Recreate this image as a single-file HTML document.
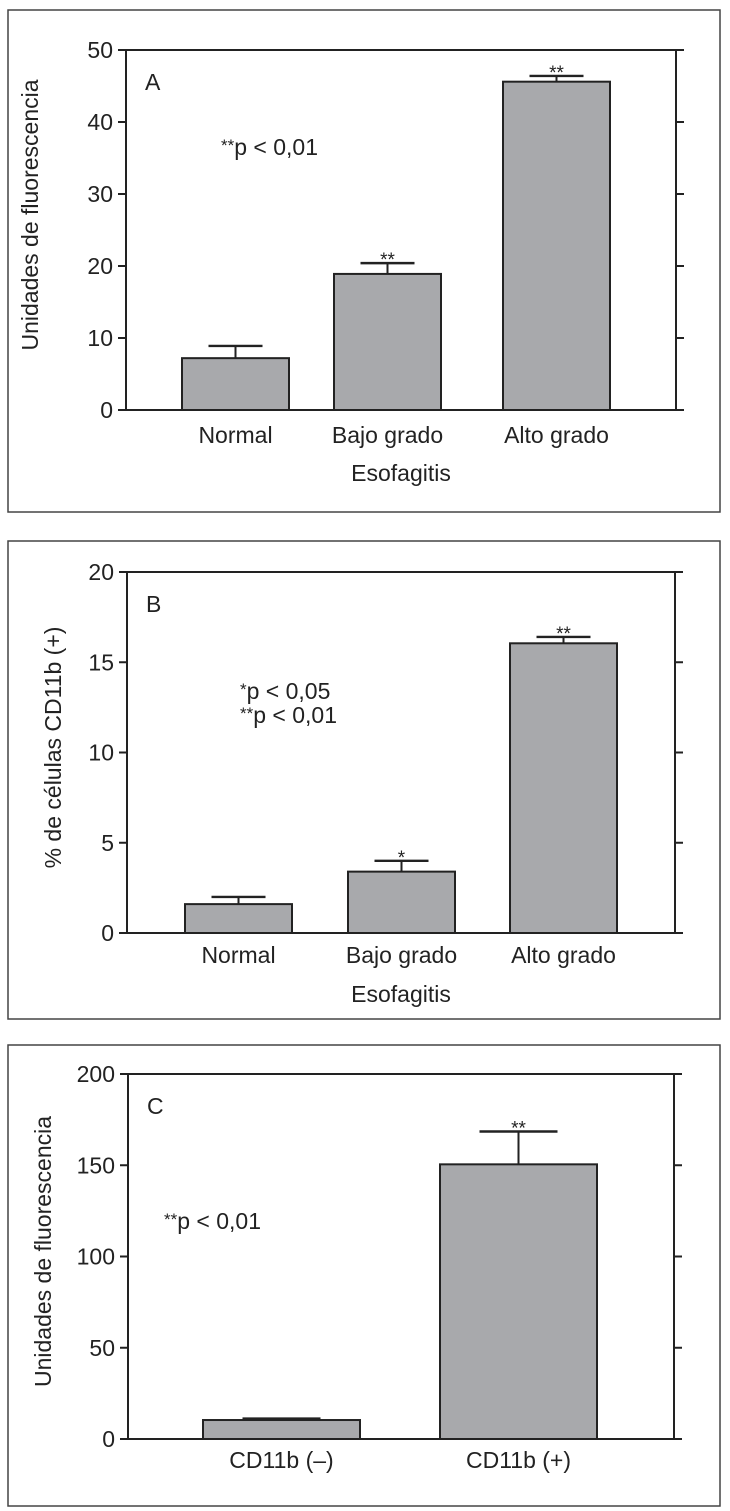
<!DOCTYPE html>
<html><head><meta charset="utf-8">
<style>
html,body{margin:0;padding:0;background:#fff;}
svg{display:block;font-family:"Liberation Sans",Arial,sans-serif;}
</style></head>
<body>
<svg id="fig" width="730" height="1511" viewBox="0 0 730 1511"></svg>
<script>
// Panel A data
const catsA = ["Normal","Bajo grado","Alto grado"];
const valsA = [7.2, 18.9, 45.6];
const errA = [8.9, 20.4, 46.4];
const starsA = ["", "**", "**"];
const ticksA = [0,10,20,30,40,50];
// Panel B data
const catsB = ["Normal","Bajo grado","Alto grado"];
const valsB = [1.6, 3.4, 16.05];
const errB = [2.0, 4.0, 16.4];
const starsB = ["", "*", "**"];
const ticksB = [0,5,10,15,20];
// Panel C data
const catsC = ["CD11b (\u2013)","CD11b (+)"];
const valsC = [10.4, 150.5];
const errC = [11.2, 168.5];
const starsC = ["", "**"];
const ticksC = [0,50,100,150,200];

const NS="http://www.w3.org/2000/svg";
const svg=document.getElementById('fig');
const FS=23;
function mk(tag,attrs,parent,text){
  const e=document.createElementNS(NS,tag);
  for(const k in attrs)e.setAttribute(k,attrs[k]);
  if(text!==undefined)e.textContent=text;
  (parent||svg).appendChild(e);return e;
}
function panel(cfg){
  const g=mk('g',{});
  
  
  const box=mk('rect',{x:cfg.box[0],y:cfg.box[1],width:cfg.box[2]-cfg.box[0],height:cfg.box[3]-cfg.box[1],fill:'none',stroke:'#444','stroke-width':1.5},g);
  
  
  const y=v=>cfg.y0-(v/cfg.max)*(cfg.y0-cfg.yTop);
  cfg.cats.forEach((c,i)=>{
    const x0=cfg.barX[i], w=cfg.barW;
    const cx=x0+w/2;
    const eline=mk('line',{x1:cx,x2:cx,y1:y(cfg.vals[i]),y2:y(cfg.err[i]),stroke:'#222','stroke-width':2},g);
    
    
    const cap=mk('line',{x1:cx-cfg.capW/2,x2:cx+cfg.capW/2,y1:y(cfg.err[i]),y2:y(cfg.err[i]),stroke:'#222','stroke-width':2.4},g);
    
    
    const b=mk('rect',{x:x0,y:y(cfg.vals[i]),width:w,height:cfg.y0-y(cfg.vals[i]),fill:'#a8a9ac',stroke:'#222','stroke-width':2},g);
    
    
    if(cfg.stars[i]){
      const s=mk('text',{x:cx,y:y(cfg.err[i])+3,'text-anchor':'middle','font-size':19,fill:'#222'},g,cfg.stars[i]);
      
      
    }
    const t=mk('text',{x:cx,y:cfg.catY,'text-anchor':'middle','font-size':FS,fill:'#222'},g,c);
    
    
  });
  const ax=mk('path',{d:`M${cfg.xL} ${cfg.yTop}V${cfg.y0} M${cfg.xR} ${cfg.yTop}V${cfg.y0} M${cfg.xL} ${cfg.yTop}H${cfg.xR+8} M${cfg.xL-8} ${cfg.y0}H${cfg.xR+8}`,stroke:'#222','stroke-width':2,fill:'none'},g);
  
  
  cfg.ticks.forEach(v=>{
    const tl=mk('path',{d:`M${cfg.xL-8} ${y(v)}H${cfg.xL} M${cfg.xR} ${y(v)}H${cfg.xR+8}`,stroke:'#222','stroke-width':2},g);
    
    
    const tt=mk('text',{x:cfg.xL-13,y:y(v)+8,'text-anchor':'end','font-size':FS,fill:'#222'},g,String(v));
    
    
  });
  const cy=(cfg.y0+cfg.yTop)/2+cfg.ytShift;
  const yt=mk('text',{x:cfg.ytX,y:cy,'text-anchor':'middle','font-size':FS,fill:'#222',transform:`rotate(-90 ${cfg.ytX} ${cy})`},g,cfg.ytitle);
  
  
  if(cfg.xtitle){
    const xt=mk('text',{x:(cfg.xL+cfg.xR)/2,y:cfg.xtY,'text-anchor':'middle','font-size':FS,fill:'#222'},g,cfg.xtitle);
    
    
  }
  const pl=mk('text',{x:cfg.xL+19,y:cfg.yTop+40,'font-size':FS,fill:'#222'},g,cfg.letter);
  
  
  cfg.notes.forEach(n=>{
    const nt=mk('text',{x:n[0],y:n[1],'font-size':FS,fill:'#222'},g);
    
    
    mk('tspan',{'font-size':17,dy:-4},nt,n[2]);
    mk('tspan',{dy:4},nt,n[3]);
  });
}
panel({name:'panel-a',box:[8,10,720,512],xL:126,xR:676,yTop:50,y0:410,max:50,
  cats:catsA,vals:valsA,err:errA,stars:starsA,ticks:ticksA,barX:[182,334,503],barW:107,capW:54,
  catY:443,xtitle:'Esofagitis',xtY:481,ytitle:'Unidades de fluorescencia',ytX:38,ytShift:-15,letter:'A',
  notes:[[221,155,'**','p < 0,01']]});
panel({name:'panel-b',box:[8,541,720,1019],xL:127,xR:675,yTop:572,y0:933,max:20,
  cats:catsB,vals:valsB,err:errB,stars:starsB,ticks:ticksB,barX:[185,348,510],barW:107,capW:54,
  catY:963,xtitle:'Esofagitis',xtY:1002,ytitle:'% de células CD11b (+)',ytX:61,ytShift:-5,letter:'B',
  notes:[[240,699,'*','p < 0,05'],[240,723,'**','p < 0,01']]});
panel({name:'panel-c',box:[8,1045,720,1506],xL:128,xR:674,yTop:1074,y0:1439,max:200,
  cats:catsC,vals:valsC,err:errC,stars:starsC,ticks:ticksC,barX:[203,440],barW:157,capW:78,
  catY:1468,xtitle:'',ytitle:'Unidades de fluorescencia',ytX:51,ytShift:-5,letter:'C',
  notes:[[164,1229,'**','p < 0,01']]});
</script>
</body></html>
